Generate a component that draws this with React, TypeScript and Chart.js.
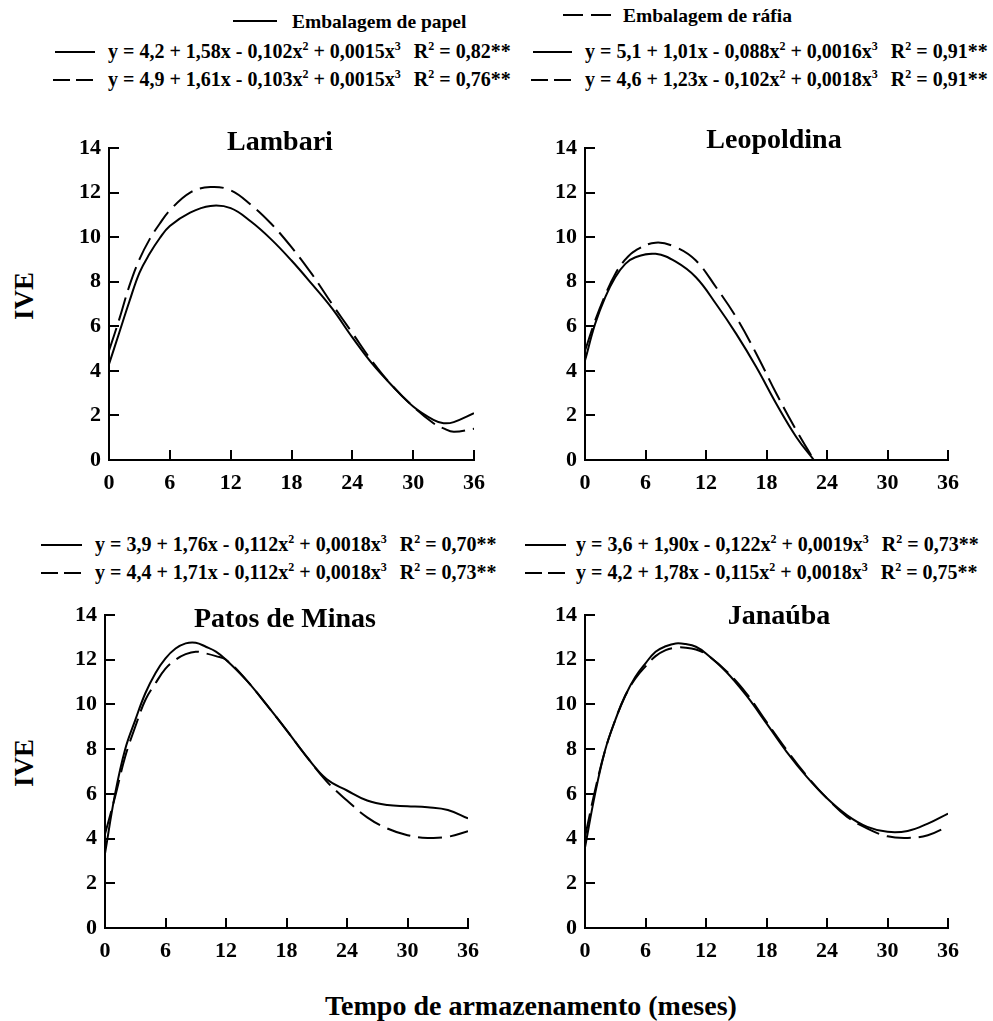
import React, { useEffect, useRef } from "react";
import { Chart, registerables } from "chart.js";

Chart.register(...registerables);

const FONT = "'Liberation Serif', 'Times New Roman', serif";

// ---- axis ticks ----
const xTicks = [0, 6, 12, 18, 24, 30, 36];
const yTicks = [0, 2, 4, 6, 8, 10, 12, 14];

// ---- Lambari ----
const lambariMonths = [0, 1, 2, 3, 4, 5, 6, 8, 10, 12, 14, 16, 18, 20, 22, 24, 26, 28, 30, 32, 33, 34, 36];
const lambariPapel = [4.3, 5.7, 7.1, 8.4, 9.25, 9.95, 10.5, 11.1, 11.4, 11.3, 10.7, 9.9, 8.95, 7.9, 6.8, 5.5, 4.3, 3.3, 2.4, 1.8, 1.65, 1.7, 2.1];
const lambariRafia = [4.9, 6.3, 7.8, 9.0, 9.9, 10.6, 11.2, 12.0, 12.25, 12.1, 11.45, 10.6, 9.55, 8.35, 7.0, 5.7, 4.4, 3.3, 2.4, 1.65, 1.42, 1.27, 1.4];

// ---- Leopoldina ----
const leopoldinaMonths = [0, 1, 2, 3, 4, 5, 7, 9, 11, 13, 15, 17, 19, 21, 22.7];
const leopoldinaPapel = [4.46, 6.1, 7.3, 8.2, 8.8, 9.1, 9.25, 8.9, 8.2, 7.0, 5.66, 4.16, 2.5, 1.0, 0];
const leopoldinaRafia = [4.9, 6.25, 7.4, 8.35, 9.0, 9.4, 9.75, 9.55, 8.95, 7.75, 6.4, 4.76, 2.96, 1.3, 0];

// ---- Patos de Minas ----
const patosMonths = [0, 1, 2, 3, 4, 5, 6, 7, 8, 9, 10, 11, 12, 14, 16, 18, 20, 22, 24, 26, 28, 30, 32, 34, 36];
const patosPapel = [3.33, 6.0, 8.0, 9.3, 10.5, 11.4, 12.06, 12.5, 12.73, 12.76, 12.58, 12.36, 12.0, 11.1, 10.0, 8.85, 7.66, 6.65, 6.15, 5.7, 5.5, 5.45, 5.4, 5.28, 4.9];
const patosRafia = [4.2, 5.87, 7.66, 9.0, 10.2, 10.94, 11.6, 12.0, 12.25, 12.36, 12.28, 12.16, 12.0, 11.1, 10.0, 8.85, 7.66, 6.55, 5.7, 4.95, 4.45, 4.15, 4.03, 4.08, 4.33];

// ---- Janaúba ----
const janaubaMonths = [0, 1, 2, 3, 4, 5, 6, 7, 8, 9, 10, 11, 12, 14, 16, 18, 20, 22, 24, 26, 28, 30, 32, 34, 36];
const janaubaPapel = [3.6, 6.0, 7.96, 9.3, 10.4, 11.24, 11.84, 12.36, 12.6, 12.73, 12.7, 12.58, 12.28, 11.46, 10.4, 9.15, 7.88, 6.76, 5.8, 5.04, 4.52, 4.3, 4.34, 4.67, 5.12];
const janaubaRafia = [4.07, 6.16, 7.96, 9.3, 10.4, 11.16, 11.7, 12.16, 12.43, 12.54, 12.54, 12.46, 12.25, 11.5, 10.5, 9.22, 7.96, 6.8, 5.8, 4.97, 4.45, 4.1, 4.03, 4.15, 4.55];

// ---- text ----
const seriesNames = ["Embalagem de papel", "Embalagem de ráfia"];
const panelNames = ["Lambari", "Leopoldina", "Patos de Minas", "Janaúba"];
const yAxisTitle = "IVE";
const xAxisTitle = "Tempo de armazenamento (meses)";
// [a, b, c, d, R²] for y = a + b x - c x² + d x³
const eqLambariPapel = ["4,2", "1,58", "0,102", "0,0015", "0,82"];
const eqLambariRafia = ["4,9", "1,61", "0,103", "0,0015", "0,76"];
const eqLeopoldinaPapel = ["5,1", "1,01", "0,088", "0,0016", "0,91"];
const eqLeopoldinaRafia = ["4,6", "1,23", "0,102", "0,0018", "0,91"];
const eqPatosPapel = ["3,9", "1,76", "0,112", "0,0018", "0,70"];
const eqPatosRafia = ["4,4", "1,71", "0,112", "0,0018", "0,73"];
const eqJanaubaPapel = ["3,6", "1,90", "0,122", "0,0019", "0,73"];
const eqJanaubaRafia = ["4,2", "1,78", "0,115", "0,0018", "0,75"];

const DASH = [24, 8];

const panelTitlePlugin = {
  id: "panelTitle",
  afterDraw(chart: any, _args: any, opts: any) {
    const ctx = chart.ctx;
    ctx.save();
    ctx.font = `bold ${opts.size}px ${FONT}`;
    ctx.fillStyle = "#000";
    ctx.textAlign = "center";
    ctx.textBaseline = "alphabetic";
    ctx.fillText(opts.text, opts.x, opts.y);
    ctx.restore();
  },
};

const innerTicksPlugin = {
  id: "innerTicks",
  afterDraw(chart: any) {
    const ctx = chart.ctx;
    const { x, y } = chart.scales;
    const a = chart.chartArea;
    ctx.save();
    ctx.strokeStyle = "#000";
    ctx.lineWidth = 2;
    ctx.beginPath();
    xTicks.forEach((v) => {
      const px = Math.round(x.getPixelForValue(v));
      ctx.moveTo(px, a.bottom);
      ctx.lineTo(px, a.bottom - 10);
    });
    yTicks.forEach((v) => {
      const py = Math.round(y.getPixelForValue(v));
      ctx.moveTo(a.left, py);
      ctx.lineTo(a.left + 10, py);
    });
    ctx.stroke();
    ctx.restore();
  },
};

type PanelProps = {
  left: number;
  top: number;
  width: number;
  height: number;
  title: string;
  titleX: number;
  titleY: number;
  months: number[];
  papel: number[];
  rafia: number[];
};

const PAD_TOP = 30;
const PAD_RIGHT = 20;
const Y_W = 60;
const X_H = 45;

function Panel(p: PanelProps) {
  const ref = useRef<HTMLCanvasElement | null>(null);
  useEffect(() => {
    if (!ref.current) return;
    const tickFont = { family: FONT, size: 22, weight: "bold" as const };
    const chart = new Chart(ref.current, {
      type: "line",
      data: {
        datasets: [
          {
            label: seriesNames[0],
            data: p.months.map((m, i) => ({ x: m, y: p.papel[i] })),
            borderColor: "#000",
            borderWidth: 2,
            pointRadius: 0,
            tension: 0.4,
            fill: false,
          },
          {
            label: seriesNames[1],
            data: p.months.map((m, i) => ({ x: m, y: p.rafia[i] })),
            borderColor: "#000",
            borderWidth: 2,
            borderDash: DASH,
            pointRadius: 0,
            tension: 0.4,
            fill: false,
          },
        ],
      },
      options: {
        responsive: false,
        maintainAspectRatio: false,
        animation: false,
        layout: { padding: { left: 0, top: PAD_TOP, right: PAD_RIGHT, bottom: 0 } },
        plugins: {
          legend: { display: false },
          tooltip: { enabled: false },
          title: { display: false },
          panelTitle: { text: p.title, x: p.titleX - p.left, y: p.titleY - p.top, size: 28 },
        } as any,
        scales: {
          x: {
            type: "linear",
            min: 0,
            max: 36,
            afterBuildTicks: (s: any) => {
              s.ticks = xTicks.map((v) => ({ value: v }));
            },
            afterFit: (s: any) => {
              s.height = X_H;
            },
            grid: { display: true, drawOnChartArea: false, drawTicks: false },
            border: { display: true, color: "#000", width: 2 },
            ticks: { color: "#000", font: tickFont, padding: 10, maxRotation: 0, autoSkip: false },
          },
          y: {
            type: "linear",
            min: 0,
            max: 14,
            afterBuildTicks: (s: any) => {
              s.ticks = yTicks.map((v) => ({ value: v }));
            },
            afterFit: (s: any) => {
              s.width = Y_W;
            },
            grid: { display: true, drawOnChartArea: false, drawTicks: false },
            border: { display: true, color: "#000", width: 2 },
            ticks: { color: "#000", font: tickFont, padding: 8, autoSkip: false },
          },
        },
      },
      plugins: [panelTitlePlugin, innerTicksPlugin],
    });
    return () => chart.destroy();
  }, []);
  return (
    <canvas
      ref={ref}
      width={p.width}
      height={p.height}
      style={{ position: "absolute", left: p.left, top: p.top, width: p.width, height: p.height }}
    />
  );
}

// chart area rectangle in page coordinates -> canvas box
function panelBox(l: number, t: number, r: number, b: number) {
  const left = l - Y_W;
  const top = t - PAD_TOP;
  return { left, top, width: r + PAD_RIGHT - left, height: b + X_H - top };
}

function Txt(props: { x: number; y: number; size: number; children: any }) {
  const { x, y, size, children } = props;
  return (
    <div
      style={{
        position: "absolute",
        left: x,
        top: y - 0.8375 * size,
        fontFamily: FONT,
        fontWeight: "bold",
        fontSize: size,
        lineHeight: `${size}px`,
        whiteSpace: "nowrap",
        color: "#000",
      }}
    >
      {children}
    </div>
  );
}

function Sample(props: { x1: number; x2: number; y: number; dash?: string }) {
  const w = props.x2 - props.x1;
  return (
    <svg style={{ position: "absolute", left: props.x1, top: props.y - 2 }} width={w} height={4}>
      <line x1={0} y1={2} x2={w} y2={2} stroke="#000" strokeWidth={2} strokeDasharray={props.dash} />
    </svg>
  );
}

const Sup = (p: { children: any }) => (
  <span style={{ fontSize: 12, position: "relative", top: -8 }}>{p.children}</span>
);

function Equation(props: { x: number; y: number; c: string[] }) {
  const [a, b, c, d, r] = props.c;
  return (
    <Txt x={props.x} y={props.y} size={20}>
      {`y = ${a} + ${b}x - ${c}x`}
      <Sup>2</Sup>
      {` + ${d}x`}
      <Sup>3</Sup>
      <span style={{ marginLeft: 13 }}>R</span>
      <Sup>2</Sup>
      {` = ${r}**`}
    </Txt>
  );
}

function EqRow(props: { lx1: number; lx2: number; tx: number; y: number; dashed?: boolean; c: string[] }) {
  return (
    <>
      <Sample x1={props.lx1} x2={props.lx2} y={props.y - 6} dash={props.dashed ? "17 6" : undefined} />
      <Equation x={props.tx} y={props.y} c={props.c} />
    </>
  );
}

function RotText(props: { x: number; y: number; size: number; children: any }) {
  return (
    <div
      style={{
        position: "absolute",
        left: props.x,
        top: props.y,
        fontFamily: FONT,
        fontWeight: "bold",
        fontSize: props.size,
        lineHeight: `${props.size}px`,
        whiteSpace: "nowrap",
        transform: "translate(-50%, -50%) rotate(-90deg)",
      }}
    >
      {props.children}
    </div>
  );
}

export default function App() {
  const b1 = panelBox(109, 148, 475, 460);
  const b2 = panelBox(585, 148, 949, 460);
  const b3 = panelBox(105, 615, 469, 928);
  const b4 = panelBox(585, 615, 949, 928);
  return (
    <div style={{ position: "absolute", left: 0, top: 0, width: 993, height: 1021, background: "#fff", overflow: "hidden" }}>
      {/* series legend */}
      <Sample x1={233} x2={277} y={21} />
      <Txt x={292} y={28} size={19.5}>{seriesNames[0]}</Txt>
      <Sample x1={563} x2={611} y={15} dash="20 8" />
      <Txt x={623} y={22} size={19.5}>{seriesNames[1]}</Txt>

      {/* top equations */}
      <EqRow lx1={55} lx2={95} tx={108} y={58} c={eqLambariPapel} />
      <EqRow lx1={53} lx2={93} tx={108} y={86} dashed c={eqLambariRafia} />
      <EqRow lx1={533} lx2={572} tx={585} y={58} c={eqLeopoldinaPapel} />
      <EqRow lx1={531} lx2={571} tx={585} y={86} dashed c={eqLeopoldinaRafia} />

      {/* bottom equations */}
      <EqRow lx1={41} lx2={82} tx={95} y={551} c={eqPatosPapel} />
      <EqRow lx1={41} lx2={82} tx={95} y={579} dashed c={eqPatosRafia} />
      <EqRow lx1={525} lx2={566} tx={576} y={551} c={eqJanaubaPapel} />
      <EqRow lx1={525} lx2={566} tx={576} y={579} dashed c={eqJanaubaRafia} />

      <Panel {...b1} title={panelNames[0]} titleX={280} titleY={150} months={lambariMonths} papel={lambariPapel} rafia={lambariRafia} />
      <Panel {...b2} title={panelNames[1]} titleX={774} titleY={148} months={leopoldinaMonths} papel={leopoldinaPapel} rafia={leopoldinaRafia} />
      <Panel {...b3} title={panelNames[2]} titleX={285} titleY={627} months={patosMonths} papel={patosPapel} rafia={patosRafia} />
      <Panel {...b4} title={panelNames[3]} titleX={779} titleY={624} months={janaubaMonths} papel={janaubaPapel} rafia={janaubaRafia} />

      <RotText x={24} y={296} size={27}>{yAxisTitle}</RotText>
      <RotText x={24} y={763} size={27}>{yAxisTitle}</RotText>
      <Txt x={325} y={1015} size={28}>{xAxisTitle}</Txt>
    </div>
  );
}
